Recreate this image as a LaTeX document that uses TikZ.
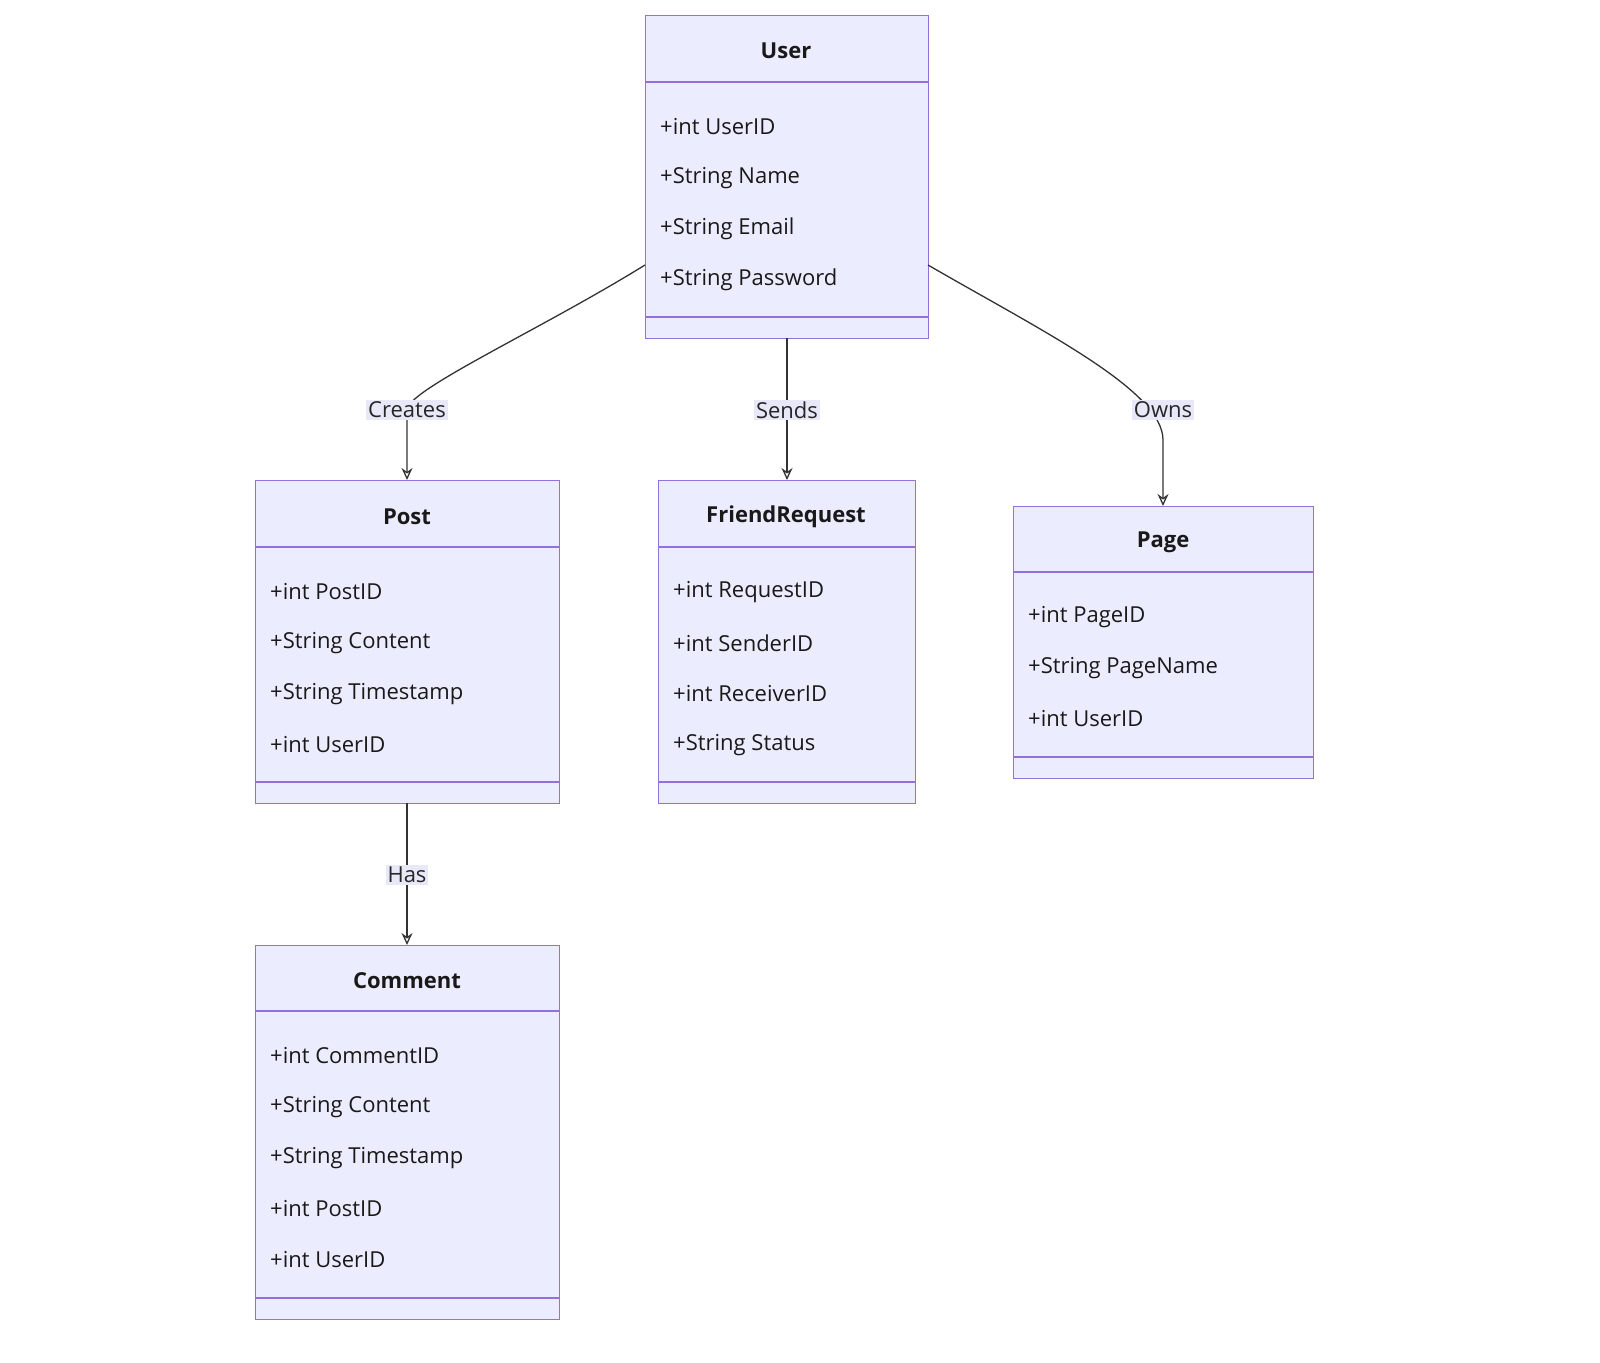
\documentclass[tikz,border=0pt]{standalone}
\usepackage{fontspec}
\setmainfont{Open Sans}
\usetikzlibrary{arrows.meta}
\begin{document}
\begin{tikzpicture}[x=1pt,y=-1pt,
 box/.style={draw=boxline,fill=boxfill,line width=1.3pt,inner sep=0pt,anchor=north west},
 sep/.style={draw=boxline,line width=1.3pt},
 attr/.style={anchor=west,font=\fontsize{22}{26}\selectfont,text=black!90,inner sep=0pt},
 ttl/.style={font=\fontsize{22}{26}\selectfont\bfseries,text=black!90,inner sep=0pt},
 lbl/.style={fill=lblfill,font=\fontsize{22}{26}\selectfont,text=black!85,inner sep=2pt},
 edge/.style={draw=edgec,line width=1.3pt,-{Stealth[length=12pt,width=11pt,open]}},
]
\definecolor{boxline}{HTML}{9370DB}
\definecolor{boxfill}{HTML}{ECECFF}
\definecolor{lblfill}{HTML}{E8E8F8}
\definecolor{edgec}{HTML}{333333}
\useasboundingbox (0,0) rectangle (1600,1362);
% User
\node[box,minimum width=283pt,minimum height=323pt] (user) at (645,15) {};
\draw[sep] (645,82) -- (928,82); \draw[sep] (645,317) -- (928,317);
\node[ttl] (usert) at (786,51) {User};
\node[attr] (u1) at (660,127) {+int UserID};
\node[attr] (u2) at (660,178) {+String Name};
\node[attr] (u3) at (660,229) {+String Email};
\node[attr] (u4) at (660,280) {+String Password};
% Post
\node[box,minimum width=304pt,minimum height=323pt] (post) at (255,480) {};
\draw[sep] (255,547) -- (559,547); \draw[sep] (255,782) -- (559,782);
\node[ttl] (postt) at (407,517) {Post};
\node[attr] (p1) at (270,592) {+int PostID};
\node[attr] (p2) at (270,643) {+String Content};
\node[attr] (p3) at (270,694) {+String Timestamp};
\node[attr] (p4) at (270,745) {+int UserID};
% FriendRequest
\node[box,minimum width=257pt,minimum height=323pt] (fr) at (658,480) {};
\draw[sep] (658,547) -- (915,547); \draw[sep] (658,782) -- (915,782);
\node[ttl] (frt) at (786,517) {FriendRequest};
\node[attr] (f1) at (673,592) {+int RequestID};
\node[attr] (f2) at (673,643) {+int SenderID};
\node[attr] (f3) at (673,694) {+int ReceiverID};
\node[attr] (f4) at (673,745) {+String Status};
% Page
\node[box,minimum width=300pt,minimum height=272pt] (page) at (1013,506) {};
\draw[sep] (1013,572) -- (1313,572); \draw[sep] (1013,757) -- (1313,757);
\node[ttl] (paget) at (1163,542) {Page};
\node[attr] (g1) at (1028,617) {+int PageID};
\node[attr] (g2) at (1028,668) {+String PageName};
\node[attr] (g3) at (1028,719) {+int UserID};
% Comment
\node[box,minimum width=304pt,minimum height=374pt] (com) at (255,945) {};
\draw[sep] (255,1011) -- (559,1011); \draw[sep] (255,1298) -- (559,1298);
\node[ttl] (comt) at (407,981) {Comment};
\node[attr] (c1) at (270,1056) {+int CommentID};
\node[attr] (c2) at (270,1107) {+String Content};
\node[attr] (c3) at (270,1158) {+String Timestamp};
\node[attr] (c4) at (270,1209) {+int PostID};
\node[attr] (c5) at (270,1260) {+int UserID};
% edge points
\coordinate (ul) at (645,265);
\coordinate (ur) at (928,265);
\coordinate (pt) at (407,480);
\coordinate (gt) at (1163,506);
\coordinate (ut) at (787,338);
\coordinate (ft) at (787,480);
\coordinate (pb) at (407,803);
\coordinate (ct) at (407,945);
\draw[edge] (ul) .. controls (540,330) and (407,390) .. (407,410) -- (pt);
\draw[edge] (ut) -- (ft);
\draw[edge] (ur) .. controls (1040,330) and (1163,390) .. (1163,440) -- (gt);
\draw[edge] (pb) -- (ct);
\node[lbl] (l1) at (407,410) {Creates};
\node[lbl] (l2) at (787,410) {Sends};
\node[lbl] (l3) at (1163,410) {Owns};
\node[lbl] (l4) at (407,875) {Has};
\end{tikzpicture}
\end{document}
